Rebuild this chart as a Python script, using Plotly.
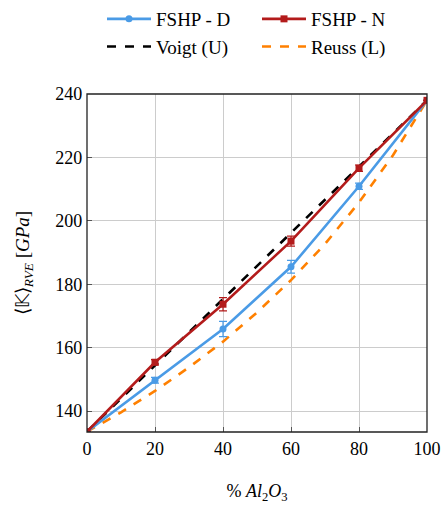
import plotly.graph_objects as go

x_pts = [0, 20, 40, 60, 80, 100]
fshp_d = [133.5, 149.7, 165.9, 185.5, 210.9, 238.0]
fshp_d_err = [0.0, 0.9, 2.4, 2.0, 1.0, 0.0]
fshp_n = [133.5, 155.4, 173.7, 193.6, 216.6, 238.0]
fshp_n_err = [0.0, 0.8, 2.1, 1.6, 1.0, 0.0]

x_bounds = [0, 10, 20, 30, 40, 50, 60, 70, 80, 90, 100]
voigt = [133.5, 143.95, 154.4, 164.85, 175.3, 185.75, 196.2, 206.65, 217.1, 227.55, 238.0]
reuss = [133.5, 139.6, 146.35, 153.8, 161.9, 171.1, 181.3, 192.7, 205.8, 220.7, 238.0]

x_ticks = [0, 20, 40, 60, 80, 100]
y_ticks = [140, 160, 180, 200, 220, 240]

BLUE = "#4a9be6"
RED = "#b31b1b"
ORANGE = "#ff8000"
FONT = "Liberation Serif"

fig = go.Figure()
fig.add_trace(go.Scatter(
    x=x_pts, y=fshp_d, name="FSHP - D", mode="lines+markers", zorder=2,
    line=dict(color=BLUE, width=2.6), marker=dict(symbol="circle", size=7, color=BLUE),
    error_y=dict(type="data", array=fshp_d_err, color=BLUE, thickness=1.2, width=4),
    cliponaxis=False))
fig.add_trace(go.Scatter(
    x=x_pts, y=fshp_n, name="FSHP - N", mode="lines+markers", zorder=3,
    line=dict(color=RED, width=2.6), marker=dict(symbol="square", size=7, color=RED),
    error_y=dict(type="data", array=fshp_n_err, color=RED, thickness=1.2, width=4),
    cliponaxis=False))
fig.add_trace(go.Scatter(
    x=x_bounds, y=voigt, name="Voigt (U)", mode="lines", zorder=1,
    line=dict(color="black", width=2.6, dash="dash")))
fig.add_trace(go.Scatter(
    x=x_bounds, y=reuss, name="Reuss (L)", mode="lines", zorder=0,
    line=dict(color=ORANGE, width=2.6, dash="dash")))

axis_common = dict(
    showgrid=True, gridcolor="#cccccc", gridwidth=1,
    showline=True, linecolor="#222222", linewidth=1.3, mirror=True,
    ticks="inside", ticklen=5, tickcolor="#555555", tickwidth=1,
    zeroline=False, tickfont=dict(family=FONT, size=18, color="black"),
    layer="above traces",
)

fig.update_layout(
    width=442, height=506,
    margin=dict(l=87, r=15, t=94, b=74, autoexpand=False),
    paper_bgcolor="white", plot_bgcolor="white",
    font=dict(family=FONT, size=18, color="black"),
    xaxis=dict(range=[0, 100], tickvals=x_ticks, **axis_common,
               title=dict(text="% <i>Al</i><sub>2</sub><i>O</i><sub>3</sub>",
                          font=dict(family=FONT, size=18), standoff=26)),
    yaxis=dict(range=[133.4, 240], tickvals=y_ticks, **axis_common,
               title=dict(text="⟨𝕂⟩<sub><i>RVE</i></sub> [<i>GPa</i>]",
                          font=dict(family=FONT, size=19), standoff=20)),
    legend=dict(orientation="h", x=0.5, xanchor="center", xref="paper",
                y=1.0, yanchor="top", yref="container",
                entrywidth=96, entrywidthmode="pixels", itemwidth=44,
                font=dict(family=FONT, size=19), traceorder="normal",
                bgcolor="rgba(0,0,0,0)"),
    showlegend=True,
    shapes=[dict(type="rect", xref="paper", yref="paper", x0=0, y0=0, x1=1, y1=1,
                 line=dict(color="#222222", width=1.3), layer="above")],
)

fig.write_html("out.html")
